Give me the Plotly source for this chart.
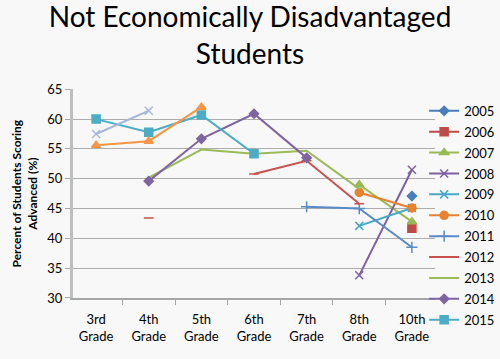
import plotly.graph_objects as go

categories = ["3rd Grade", "4th Grade", "5th Grade", "6th Grade", "7th Grade", "8th Grade", "10th Grade"]
tick_labels = ["3rd<br>Grade", "4th<br>Grade", "5th<br>Grade", "6th<br>Grade", "7th<br>Grade", "8th<br>Grade", "10th<br>Grade"]

y2005 = [None, None, None, None, None, None, 47.1]
y2006 = [None, None, None, None, None, None, 41.7]
y2007 = [None, None, None, None, None, 49.0, 42.8]
y2008 = [None, None, None, None, None, 33.8, 51.5]
y2009 = [None, None, None, None, None, 42.1, 45.1]
y2010 = [None, None, None, None, None, 47.7, 45.1]
y2011 = [None, None, None, None, 45.3, 45.0, 38.5]
y2012 = [None, 43.4, None, 50.8, 53.0, 45.8, None]
y2013 = [None, 50.2, 54.9, 54.2, 54.7, 48.3, None]
y2014 = [None, 49.6, 56.7, 60.9, 53.5, None, None]
y2015 = [60.0, 57.8, 60.7, 54.2, None, None, None]
y_extra1 = [55.6, 56.3, 62.0, None, None, None, None]
y_extra2 = [57.5, 61.4, None, None, None, None, None]

series = [
    ("2005", y2005, "#4A7EBB", "diamond", 7, True),
    ("2006", y2006, "#BE4B48", "square", 8, True),
    ("2007", y2007, "#98B954", "triangle-up", 8, True),
    ("2008", y2008, "#7D60A0", "x-thin-open", 8, True),
    ("2009", y2009, "#46AAC5", "x-thin-open", 8, True),
    ("2010", y2010, "#E8822E", "circle", 8, True),
    ("2011", y2011, "#5B8BC7", "cross-thin-open", 8, True),
    ("2012", y2012, "#C9504D", "line-ew-open", 7, True),
    ("2013", y2013, "#9BBB59", "line-ew-open", 1, True),
    ("2014", y2014, "#7F64A2", "diamond", 7, True),
    ("2015", y2015, "#4BACC6", "square", 8, True),
    ("2016", y_extra1, "#F79646", "triangle-up", 8, False),
    ("2017", y_extra2, "#A7B9D9", "x-thin-open", 8, False),
]

fig = go.Figure()
for name, ys, color, sym, size, show in series:
    fig.add_trace(go.Scatter(
        x=categories, y=ys, name=name, mode="lines+markers",
        line=dict(color=color, width=2),
        marker=dict(symbol=sym, size=size, color=color, line=dict(color=color, width=1.5)),
        showlegend=show, legendgroup=name, connectgaps=False,
    ))

# plot area: x 73..435, y 89.3..298 ; margins keep a tall grid box so the legend is not scrolled
fig.update_layout(
    width=500, height=359,
    paper_bgcolor="#F8F8F8", plot_bgcolor="#F8F8F8",
    margin=dict(l=73, r=65, t=10, b=61, autoexpand=False),
    font=dict(family="Lato", color="#000000"),
    title=dict(text="Not Economically Disadvantaged<br>Students", x=0.5, xanchor="center",
               y=0.924, yanchor="top", font=dict(family="Lato", size=28, color="#000000")),
    showlegend=True,
    legend=dict(x=0.970, xanchor="left", y=0.702, yanchor="top", bgcolor="rgba(0,0,0,0)",
                font=dict(size=13, family="Lato"), tracegroupgap=1, itemwidth=30),
)
fig.update_xaxes(
    type="category", categoryorder="array", categoryarray=categories,
    tickvals=categories, ticktext=tick_labels, tickson="boundaries",
    ticks="outside", ticklen=5, tickcolor="#A6A6A6", ticklabelstandoff=9,
    showline=True, linecolor="#A6A6A6", linewidth=1.5, showgrid=False,
    tickfont=dict(size=13, family="Lato"),
)
fig.update_yaxes(
    domain=[0, 0.7247],
    range=[30, 65], dtick=5, ticks="outside", ticklen=5, tickcolor="#A6A6A6",
    showline=True, linecolor="#BFBFBF", linewidth=3, gridcolor="#ADADAD", gridwidth=1,
    zeroline=False, tickfont=dict(size=13, family="Lato"),
    title=dict(text="<b>Percent of Students Scoring</b><br><b>Advanced (%)</b>", standoff=8,
               font=dict(size=12, family="Lato")),
)

fig.write_html("out.html", config={"displayModeBar": False},
               post_script="document.body.style.margin='0px';")
